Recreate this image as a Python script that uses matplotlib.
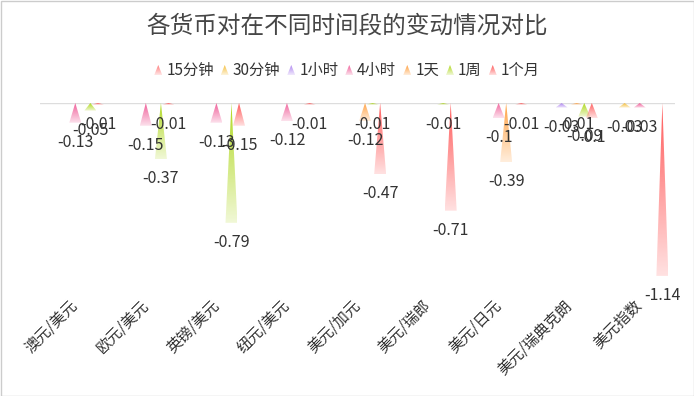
import matplotlib
matplotlib.use('Agg')
import matplotlib.pyplot as plt
import numpy as np
from matplotlib.patches import Polygon, Rectangle
from matplotlib.colors import to_rgb

plt.rcParams['font.family'] = ['Noto Sans CJK SC', 'DejaVu Sans']

title = '各货币对在不同时间段的变动情况对比'
categories = ['澳元/美元', '欧元/美元', '英镑/美元', '纽元/美元', '美元/加元',
              '美元/瑞郎', '美元/日元', '美元/瑞典克朗', '美元指数']
series_names = ['15分钟', '30分钟', '1小时', '4小时', '1天', '1周', '1个月']

s_15m = [None, None, None, None, None, None, None, None, None]
s_30m = [None, None, None, None, None, None, None, None, -0.03]
s_1h = [None, None, None, None, None, None, None, -0.03, None]
s_4h = [-0.13, -0.15, -0.13, -0.12, None, None, -0.1, None, -0.03]
s_1d = [None, None, None, None, -0.12, None, -0.39, -0.01, None]
s_1w = [-0.05, -0.37, -0.79, None, -0.01, -0.01, None, -0.09, None]
s_1m = [-0.01, -0.01, -0.15, -0.01, -0.47, -0.71, -0.01, -0.1, -1.14]
series_values = [s_15m, s_30m, s_1h, s_4h, s_1d, s_1w, s_1m]
series_colors = ['#ff7b7b', '#f5c040', '#b088f0', '#f0609a', '#ffa040', '#b0d820', '#ff5a5a']

W, H = 694, 396
fig = plt.figure(figsize=(W / 100, H / 100), dpi=100)
ax = fig.add_axes([40 / W, 1 - 285 / H, 635 / W, 182 / H])


def grad_triangle(axis, xc, hw, y_apex, y_base, color, zorder=3):
    r, g, b = to_rgb(color)
    n = 256
    t = np.linspace(0, 1, n)
    img = np.zeros((n, 1, 4))
    img[..., 0] = r
    img[..., 1] = g
    img[..., 2] = b
    img[:, 0, 3] = 1 - 0.82 * t
    im = axis.imshow(img, extent=[xc - hw, xc + hw, y_base, y_apex], origin='upper',
                     aspect='auto', interpolation='bilinear', zorder=zorder)
    poly = Polygon([[xc - hw, y_base], [xc + hw, y_base], [xc, y_apex]],
                   closed=True, transform=axis.transData, facecolor='none', edgecolor='none')
    im.set_clip_path(poly)
    return im


n_series = len(series_names)
slot = 0.107
half_w = 0.085
for j, (name, vals, col) in enumerate(zip(series_names, series_values, series_colors)):
    off = (j - (n_series - 1) / 2) * slot
    for i, v in enumerate(vals):
        if v is None:
            continue
        xc = i + off
        grad_triangle(ax, xc, half_w, 0, v, col, zorder=3 + j)
        ax.annotate(str(v), xy=(xc, v), xytext=(0, -11), textcoords='offset pixels',
                    ha='center', va='top', fontsize=11.5, color='#333333',
                    zorder=20, annotation_clip=False)

ax.axhline(0, color='#dddddd', lw=1, zorder=2)
ax.set_xlim(-0.5, len(categories) - 0.5)
ax.set_ylim(-1.2, 0)
ax.set_yticks([])
ax.set_xticks(range(len(categories)))
ax.set_xticklabels(categories, rotation=45, ha='right', va='center',
                   rotation_mode='anchor', fontsize=11, color='#333333')
ax.tick_params(axis='x', length=0, pad=13)
for s in ax.spines.values():
    s.set_visible(False)
ax.patch.set_visible(False)

# overlay in pixel coords for title/legend/border
ov = fig.add_axes([0, 0, 1, 1], zorder=-1)
ov.set_xlim(0, W)
ov.set_ylim(H, 0)
ov.axis('off')

ov.text(W / 2, 26, title, ha='center', va='center', fontsize=17, color='#464646')

renderer = fig.canvas.get_renderer()
leg_y = 70
mk_w, mk_h = 8, 10
gap_mk = 4
gap_item = 7
texts = []
widths = []
for name in series_names:
    t = ov.text(0, leg_y, name, ha='left', va='center', fontsize=11, color='#333333')
    bb = t.get_window_extent(renderer)
    texts.append(t)
    widths.append(bb.width)
total = sum(mk_w + gap_mk + w for w in widths) + gap_item * (len(widths) - 1)
x = W / 2 - total / 2
for t, w, col in zip(texts, widths, series_colors):
    grad_triangle(ov, x + mk_w / 2, mk_w / 2, leg_y - mk_h / 2, leg_y + mk_h / 2, col, zorder=5)
    t.set_x(x + mk_w + gap_mk)
    x += mk_w + gap_mk + w + gap_item

ov.set_xlim(0, W)
ov.set_ylim(H, 0)

fig.add_artist(Rectangle((0.5 / W, 0.5 / H), (W - 1) / W, (H - 1) / H, transform=fig.transFigure,
                         fill=False, edgecolor='#cccccc', lw=1))

fig.savefig('out.png', dpi=100, facecolor='white')
